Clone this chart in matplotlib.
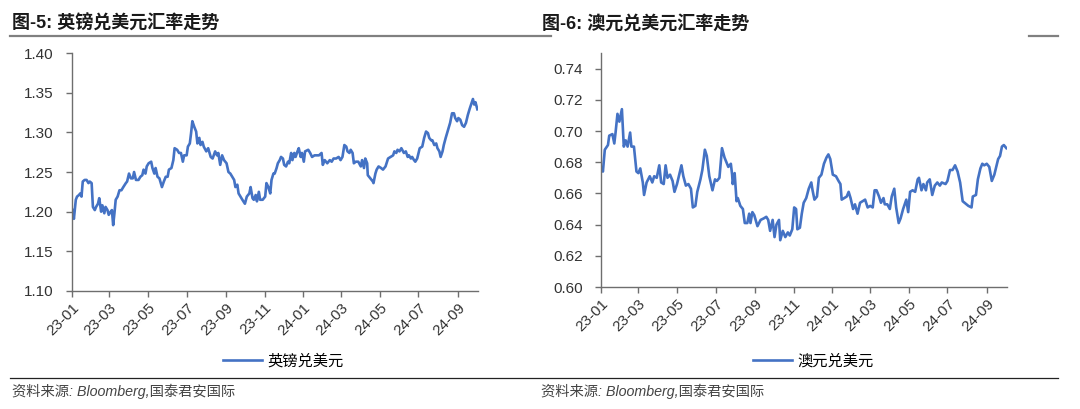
import matplotlib
matplotlib.use('Agg')
import matplotlib.pyplot as plt
import matplotlib.dates as mdates
from matplotlib.lines import Line2D
import pandas as pd

plt.rcParams['font.family'] = ['Liberation Sans', 'Noto Sans CJK SC']

# 英镑兑美元 (天数自 2023-01-01 起)
gbp_days = [1, 3, 6, 8, 11, 13, 15, 17, 20, 23, 26, 28, 31, 33, 36, 38, 41, 43, 46, 48,
            51, 53, 56, 58, 61, 63, 65, 67, 69, 72, 75, 78, 81, 85, 87, 90, 93, 96, 98, 101,
            105, 108, 111, 113, 116, 118, 121, 125, 127, 130, 132, 135, 138, 142, 145, 148, 151, 153, 157, 160,
            162, 166, 169, 172, 175, 177, 181, 183, 186, 188, 190, 193, 196, 198,
            201, 203, 206, 208, 212, 215, 219, 222, 226, 229, 231, 234, 237, 240, 244, 247, 250, 253, 256, 258,
            261, 263, 266, 269, 273, 276, 280, 282, 285, 287, 290, 292, 295, 297, 301, 305, 307, 310, 313, 315,
            318, 320, 323, 325, 328, 330, 333, 335, 338, 341, 343, 346, 348, 351, 353, 356, 358, 361, 363, 366,
            368, 373, 376, 379, 383, 386, 390, 394, 396, 399, 403, 407, 410, 413,
            417, 421, 424, 427, 430, 433, 435, 438, 440, 443, 445, 448, 452, 456, 458, 461, 463, 466, 467, 471,
            475, 476, 479, 481, 484, 488, 491, 495, 499, 503, 507, 509, 512, 514, 517, 520, 524, 527, 530, 532,
            535, 537, 540, 542, 545, 549, 553, 556, 559, 562, 564, 567, 569, 572, 575, 577, 580, 582, 585, 587,
            590, 593, 597, 600, 603, 605, 608, 610, 613, 616, 619, 622, 625, 628, 631, 633, 635, 637, 640]
gbp_vals = [1.202, 1.191, 1.215, 1.219, 1.221, 1.223, 1.219, 1.238, 1.240, 1.240, 1.236, 1.238, 1.236, 1.206, 1.202, 1.206, 1.210, 1.217, 1.200, 1.208,
            1.198, 1.206, 1.202, 1.196, 1.200, 1.202, 1.183, 1.198, 1.215, 1.219, 1.227, 1.227, 1.231, 1.236, 1.238, 1.248, 1.242, 1.242, 1.250, 1.240,
            1.240, 1.244, 1.246, 1.253, 1.248, 1.257, 1.261, 1.263, 1.255, 1.248, 1.255, 1.244, 1.242, 1.231, 1.238, 1.244, 1.244, 1.253, 1.255, 1.265,
            1.280, 1.278, 1.274, 1.274, 1.263, 1.271, 1.271, 1.282, 1.286, 1.299, 1.314, 1.307, 1.301, 1.286,
            1.293, 1.284, 1.288, 1.282, 1.276, 1.280, 1.269, 1.267, 1.276, 1.271, 1.274, 1.259, 1.271, 1.265, 1.261, 1.250, 1.248, 1.244, 1.240, 1.231,
            1.234, 1.223, 1.219, 1.215, 1.210, 1.219, 1.223, 1.231, 1.217, 1.215, 1.221, 1.213, 1.225, 1.215, 1.215, 1.219, 1.236, 1.231, 1.223, 1.240,
            1.248, 1.248, 1.255, 1.261, 1.265, 1.269, 1.267, 1.259, 1.257, 1.263, 1.261, 1.274, 1.265, 1.274, 1.269, 1.276, 1.280, 1.269, 1.274, 1.263,
            1.276, 1.278, 1.274, 1.269, 1.271, 1.271, 1.271, 1.274, 1.259, 1.265, 1.261, 1.265, 1.263, 1.267,
            1.267, 1.269, 1.265, 1.269, 1.284, 1.282, 1.276, 1.274, 1.278, 1.274, 1.261, 1.263, 1.263, 1.257, 1.265, 1.255, 1.267, 1.261, 1.246, 1.242,
            1.238, 1.236, 1.248, 1.253, 1.257, 1.255, 1.253, 1.257, 1.267, 1.269, 1.271, 1.276, 1.274, 1.278, 1.276, 1.280, 1.274, 1.276, 1.269, 1.271,
            1.267, 1.269, 1.265, 1.263, 1.267, 1.280, 1.282, 1.293, 1.301, 1.299, 1.293, 1.290, 1.290, 1.284, 1.286, 1.280, 1.276, 1.269, 1.276, 1.284,
            1.293, 1.301, 1.312, 1.324, 1.324, 1.318, 1.314, 1.318, 1.316, 1.309, 1.307, 1.312, 1.322, 1.330, 1.337, 1.342, 1.335, 1.338, 1.329]

# 澳元兑美元
aud_days = [2, 3, 6, 11, 13, 18, 21, 23, 26, 29, 33, 36, 39, 42, 46, 48, 52, 56, 59, 62,
            66, 68, 72, 77, 81, 84, 88, 92, 95, 99, 102, 105, 109, 113, 116, 120, 127, 130, 134, 138,
            142, 145, 149, 152, 157, 160, 164, 167, 171, 176, 180, 183, 187, 191, 195,
            201, 205, 207, 208, 211, 214, 216, 220, 224, 227, 231, 234, 236, 239, 242, 247, 252, 257, 261, 264,
            267, 271, 274, 277, 281, 283, 287, 291, 295, 298, 302, 305, 308, 310, 314, 317, 320, 324, 328, 332,
            334, 337, 341, 344, 348, 352, 356, 359, 362, 366, 371, 375, 378, 380, 384, 388, 391, 394, 398, 401,
            405, 409, 413,
            417, 421, 425, 429, 432, 435, 439, 442, 446, 448, 452, 456, 459, 463, 466, 470, 473, 477, 482, 485,
            488, 492, 496, 500, 502, 506, 509, 513, 515, 519, 523, 527, 531, 535, 538, 544, 547, 551, 555, 559,
            563, 567, 571, 574, 580, 585, 587, 592, 595, 599, 602, 605, 609, 613, 617, 621,
            624, 627, 630, 633, 636, 638, 640]
aud_vals = [0.676, 0.674, 0.688, 0.691, 0.697, 0.698, 0.692, 0.699, 0.711, 0.706, 0.714, 0.690, 0.694, 0.690, 0.699, 0.690, 0.690, 0.674, 0.673, 0.676,
            0.667, 0.659, 0.667, 0.671, 0.667, 0.671, 0.670, 0.678, 0.667, 0.666, 0.678, 0.670, 0.672, 0.668, 0.661, 0.666, 0.678, 0.671, 0.665, 0.666,
            0.663, 0.651, 0.652, 0.661, 0.669, 0.675, 0.688, 0.684, 0.671, 0.662, 0.669, 0.668, 0.670, 0.689, 0.683,
            0.677, 0.679, 0.672, 0.666, 0.673, 0.655, 0.657, 0.652, 0.650, 0.641, 0.641, 0.647, 0.641, 0.648, 0.646, 0.639, 0.643, 0.644, 0.645, 0.643,
            0.636, 0.643, 0.632, 0.640, 0.643, 0.630, 0.636, 0.632, 0.635, 0.633, 0.637, 0.651, 0.650, 0.637, 0.638, 0.647, 0.654, 0.657, 0.663, 0.667,
            0.662, 0.656, 0.658, 0.670, 0.672, 0.679, 0.683, 0.685, 0.682, 0.672, 0.671, 0.668, 0.666, 0.656, 0.657, 0.658, 0.661, 0.657, 0.650, 0.653,
            0.647, 0.654, 0.655,
            0.656, 0.651, 0.652, 0.651, 0.662, 0.662, 0.658, 0.654, 0.657, 0.653, 0.653, 0.650, 0.658, 0.663, 0.651, 0.641, 0.644, 0.650, 0.656, 0.648,
            0.661, 0.662, 0.661, 0.669, 0.670, 0.662, 0.666, 0.662, 0.667, 0.669, 0.659, 0.665, 0.667, 0.665, 0.667, 0.666, 0.668, 0.675, 0.675, 0.678,
            0.674, 0.667, 0.655, 0.654, 0.652, 0.651, 0.658, 0.659, 0.669, 0.676, 0.679, 0.678, 0.679, 0.677, 0.668, 0.672,
            0.677, 0.682, 0.684, 0.690, 0.691, 0.690, 0.689]

start = pd.Timestamp('2023-01-01')
gbp_dates = start + pd.to_timedelta(gbp_days, unit='D')
aud_dates = start + pd.to_timedelta(aud_days, unit='D')

gbp_ticks = [1.10, 1.15, 1.20, 1.25, 1.30, 1.35, 1.40]
aud_ticks = [0.60, 0.62, 0.64, 0.66, 0.68, 0.70, 0.72, 0.74]

line_color = '#4472C4'
axis_color = '#6e6e6e'
text_color = '#333333'

W, H = 1080, 409
fig = plt.figure(figsize=(W / 100, H / 100), dpi=100)

ax1 = fig.add_axes([72 / W, 1 - 291 / H, 406 / W, 238 / H])
ax2 = fig.add_axes([601 / W, 1 - 287 / H, 406 / W, 234 / H])


def style_axis(ax, ticks, ylim, fmt):
    for s in ['top', 'right']:
        ax.spines[s].set_visible(False)
    for s in ['left', 'bottom']:
        ax.spines[s].set_color(axis_color)
        ax.spines[s].set_linewidth(1.0)
    ax.set_ylim(*ylim)
    ax.set_yticks(ticks)
    ax.set_yticklabels([fmt % t for t in ticks])
    ax.set_xlim(pd.Timestamp('2023-01-01'), pd.Timestamp('2024-10-03'))
    ax.xaxis.set_major_locator(mdates.MonthLocator(bymonth=[1, 3, 5, 7, 9, 11]))
    ax.xaxis.set_major_formatter(mdates.DateFormatter('%y-%m'))
    ax.tick_params(axis='both', direction='out', length=4, width=1.0,
                   color=axis_color, labelcolor=text_color, labelsize=11)
    ax.tick_params(axis='y', pad=9)
    ax.tick_params(axis='x', pad=3)
    for lab in ax.get_xticklabels():
        lab.set_rotation(45)
        lab.set_ha('right')
        lab.set_rotation_mode('anchor')


ax1.plot(gbp_dates, gbp_vals, color=line_color, lw=1.9, label='英镑兑美元')
style_axis(ax1, gbp_ticks, (1.10, 1.40), '%.2f')

ax2.plot(aud_dates, aud_vals, color=line_color, lw=1.9, label='澳元兑美元')
style_axis(ax2, aud_ticks, (0.60, 0.75), '%.2f')

for ax, cx in [(ax1, 283 / W), (ax2, 813 / W)]:
    ax.legend(loc='center', bbox_to_anchor=(cx, 1 - 361 / H), bbox_transform=fig.transFigure,
              frameon=False, handlelength=2.6, handletextpad=0.3,
              prop={'family': ['Noto Sans CJK SC'], 'size': 11})

# 标题
fig.text(12 / W, 1 - 24 / H, '图-5: 英镑兑美元汇率走势', fontsize=13, fontweight='bold',
         color='#1a1a1a', va='center', ha='left')
fig.text(542 / W, 1 - 24 / H, '图-6: 澳元兑美元汇率走势', fontsize=13, fontweight='bold',
         color='#1a1a1a', va='center', ha='left')

# 标题下的横线
fig.add_artist(Line2D([10 / W, 551 / W], [1 - 36 / H, 1 - 36 / H], color='#808080', lw=1.6))
fig.add_artist(Line2D([1029 / W, 1058 / W], [1 - 36 / H, 1 - 36 / H], color='#808080', lw=1.6))

# 资料来源
fig.add_artist(Line2D([10 / W, 1058 / W], [1 - 378 / H, 1 - 378 / H], color='#222222', lw=0.9))
for x in [12, 541]:
    fig.text(x / W, 1 - 391 / H, '资料来源: Bloomberg,国泰君安国际', fontsize=10.3,
             style='italic', color='#444444', va='center', ha='left')

fig.savefig('out.png', dpi=100)
